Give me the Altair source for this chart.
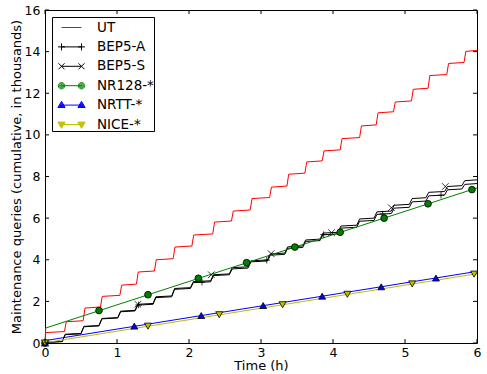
import altair as alt
import pandas as pd

# ---------------- data ----------------
series_names = ["UT", "BEP5-A", "BEP5-S", "NR128-*", "NRTT-*", "NICE-*"]
line_colors = ["#ff0000", "#000000", "#000000", "#008000", "#0000ff", "#bfbf00"]

x_ticks = [0, 1, 2, 3, 4, 5, 6]
y_ticks = [0, 2, 4, 6, 8, 10, 12, 14, 16]

# UT: staircase (jump times in h, level after each jump, thousands)
ut_start = 0.0
ut_jump_t = [0.27, 0.53, 0.77, 1.04, 1.27, 1.52, 1.78, 2.04, 2.33, 2.59, 2.85, 3.12,
             3.36, 3.61, 3.85, 4.10, 4.37, 4.60, 4.84, 5.09, 5.32, 5.58, 5.82]
ut_levels = [0.50, 1.02, 1.68, 2.24, 2.78, 3.41, 4.00, 4.61, 5.19, 5.81, 6.34, 6.94,
             7.49, 8.11, 8.70, 9.23, 9.82, 10.43, 11.06, 11.58, 12.19, 12.85, 13.43, 14.01]

# BEP5-A / BEP5-S: smaller staircases
bep_jump_t = [0.24, 0.50, 0.75, 1.01, 1.25, 1.50, 1.76, 2.02, 2.30, 2.56, 2.82, 3.09,
              3.33, 3.58, 3.82, 4.07, 4.33, 4.57, 4.81, 5.06, 5.29, 5.55, 5.79]
bep_a_levels = [0.03, 0.40, 0.78, 1.16, 1.50, 1.82, 2.18, 2.58, 2.90, 3.24, 3.56, 3.90,
                4.22, 4.55, 4.88, 5.20, 5.52, 5.85, 6.18, 6.48, 6.78, 7.07, 7.36, 7.62]
bep_s_levels = [0.03, 0.42, 0.80, 1.18, 1.53, 1.86, 2.22, 2.62, 2.95, 3.28, 3.62, 3.95,
                4.28, 4.62, 4.95, 5.28, 5.62, 5.96, 6.30, 6.62, 6.94, 7.24, 7.52, 7.80]

# straight lines
nr128_t = [0.0, 0.01, 6.0]
nr128_v = [0.0, 0.72, 7.45]
nrtt_t = [0.0, 0.01, 6.0]
nrtt_v = [0.0, 0.12, 3.44]
nice_t = [0.0, 0.01, 6.0]
nice_v = [0.0, 0.02, 3.33]

# markers
bep_a_mark_t = [0.0, 1.30, 2.18, 3.08, 3.87, 4.69, 5.50]
bep_a_mark_v = [0.0, 1.83, 2.92, 3.98, 5.21, 6.20, 7.10]
bep_s_mark_t = [0.0, 1.29, 2.31, 3.14, 3.98, 4.81, 5.56]
bep_s_mark_v = [0.0, 1.86, 3.28, 4.29, 5.30, 6.50, 7.52]
nr128_mark_t = [0.0, 0.75, 1.43, 2.13, 2.80, 3.47, 4.10, 4.71, 5.32, 5.93]
nr128_mark_v = [0.0, 1.56, 2.32, 3.11, 3.86, 4.61, 5.32, 6.00, 6.69, 7.37]
nrtt_mark_t = [0.0, 1.24, 2.17, 3.03, 3.85, 4.67, 5.43]
nrtt_mark_v = [0.0, 0.81, 1.32, 1.80, 2.25, 2.70, 3.12]
nice_mark_t = [0.0, 1.43, 2.42, 3.30, 4.20, 5.10, 5.96]
nice_mark_v = [0.0, 0.81, 1.36, 1.84, 2.34, 2.84, 3.31]


# ---------------- build tables ----------------
def staircase(start, jumps, levels, rise, ramp):
    ts, vs = [0.0, 0.01], [start, levels[0]]
    for k, j in enumerate(jumps):
        ts += [j, j + ramp]
        vs += [levels[k] + rise, levels[k + 1]]
    ts.append(6.0)
    vs.append(levels[-1] + rise)
    return ts, vs


rows = []


def add(name, ts, vs):
    for i, (t, v) in enumerate(zip(ts, vs)):
        rows.append({"series": name, "t": t, "v": v, "order": i})


add("UT", *staircase(ut_start, ut_jump_t, ut_levels, 0.05, 0.025))
add("BEP5-A", *staircase(0.0, bep_jump_t, bep_a_levels, 0.04, 0.04))
add("BEP5-S", *staircase(0.0, bep_jump_t, bep_s_levels, 0.04, 0.04))
add("NR128-*", nr128_t, nr128_v)
add("NRTT-*", nrtt_t, nrtt_v)
add("NICE-*", nice_t, nice_v)
line_df = pd.DataFrame(rows)

mrows = []
for name, ts, vs in [("BEP5-A", bep_a_mark_t, bep_a_mark_v),
                     ("BEP5-S", bep_s_mark_t, bep_s_mark_v),
                     ("NR128-*", nr128_mark_t, nr128_mark_v),
                     ("NRTT-*", nrtt_mark_t, nrtt_mark_v),
                     ("NICE-*", nice_mark_t, nice_mark_v)]:
    for t, v in zip(ts, vs):
        mrows.append({"series": name, "t": t, "v": v})
mark_df = pd.DataFrame(mrows)

# ---------------- styling ----------------
FONT = "DejaVu Sans"
plus_path = "M-1,0L1,0M0,-1L0,1"
cross_path = "M-1,-1L1,1M-1,1L1,-1"
data_shapes = ["circle", plus_path, cross_path, "circle", "triangle-up", "triangle-down"]
data_sizes = [40, 49, 42, 42, 50, 50]


# legend symbols (stroke only): a line from -1..1 with a marker at each end;
# solid markers are drawn as nested outlines
def f(x):
    return f"{x:.3f}".rstrip("0").rstrip(".")


def rings(cx, radii):
    out = ""
    for r in radii:
        out += (f"M{f(cx + r)},0A{f(r)},{f(r)},0,1,1,{f(cx - r)},0"
                f"A{f(r)},{f(r)},0,1,1,{f(cx + r)},0Z")
    return out


def tri(cx, up, scales):
    s0 = -1 if up else 1
    verts = [(0, 0.38 * s0), (0.36, -0.24 * s0), (-0.36, -0.24 * s0)]
    cy = sum(v[1] for v in verts) / 3
    out = ""
    for s in scales:
        pts = [(cx + s * vx, cy + s * (vy - cy)) for vx, vy in verts]
        out += "M" + "L".join(f"{f(px)},{f(py)}" for px, py in pts) + "Z"
    return out


LINE = "M-1,0L1,0"
RADII = [0.32, 0.22, 0.12, 0.04]
TSCALES = [1.0, 0.72, 0.44, 0.16]
legend_paths = [
    LINE,
    LINE + "M-1.35,0L-0.65,0M-1,-0.35L-1,0.35M0.65,0L1.35,0M1,-0.35L1,0.35",
    LINE + "M-1.3,-0.3L-0.7,0.3M-1.3,0.3L-0.7,-0.3M0.7,-0.3L1.3,0.3M0.7,0.3L1.3,-0.3",
    LINE + rings(-1, RADII) + rings(1, RADII),
    LINE + tri(-1, True, TSCALES) + tri(1, True, TSCALES),
    LINE + tri(-1, False, TSCALES) + tri(1, False, TSCALES),
]

x_scale = alt.Scale(domain=[0, 6], nice=False, zero=False)
y_scale = alt.Scale(domain=[0, 16], nice=False, zero=False)

x_axis = alt.Axis(values=x_ticks, ticks=False, domain=False, grid=False, format="d",
                  labelPadding=3, labelFlush=False, labelOverlap=False,
                  title="Time (h)", titlePadding=1, titleFontWeight="normal")
y_axis = alt.Axis(values=y_ticks, ticks=False, domain=False, grid=False, format="d",
                  labelPadding=5, labelOverlap=False, titleFontWeight="normal",
                  title="Maintenance queries (cumulative, in thousands)", titlePadding=1)

legend = alt.Legend(orient="none", legendX=7, legendY=7, title=None, padding=0,
                    symbolSize=400, rowPadding=2.4, symbolOffset=9, labelOffset=15,
                    labelFont=FONT, labelFontSize=13.5, labelColor="black",
                    strokeColor="black", symbolStrokeWidth=1, symbolOpacity=1)

lines = alt.Chart(line_df).mark_line(strokeWidth=1).encode(
    x=alt.X("t:Q", scale=x_scale, axis=x_axis),
    y=alt.Y("v:Q", scale=y_scale, axis=y_axis),
    color=alt.Color("series:N", scale=alt.Scale(domain=series_names, range=line_colors),
                    legend=None),
    order="order:Q",
)

markers = alt.Chart(mark_df).mark_point(filled=True, stroke="black", strokeWidth=0.8,
                                        opacity=1).encode(
    x=alt.X("t:Q", scale=x_scale),
    y=alt.Y("v:Q", scale=y_scale),
    fill=alt.Fill("series:N", scale=alt.Scale(domain=series_names, range=line_colors),
                  legend=None),
    shape=alt.Shape("series:N", scale=alt.Scale(domain=series_names, range=data_shapes),
                    legend=None),
    size=alt.Size("series:N", scale=alt.Scale(domain=series_names, range=data_sizes),
                  legend=None),
)

legend_layer = alt.Chart(mark_df).transform_filter(alt.datum.t < -100).mark_point(
    filled=False, opacity=1, strokeWidth=1).encode(
    x=alt.X("t:Q", scale=x_scale),
    y=alt.Y("v:Q", scale=y_scale),
    color=alt.Color("series:N", scale=alt.Scale(domain=series_names, range=line_colors),
                    legend=legend),
    shape=alt.Shape("series:N", scale=alt.Scale(domain=series_names, range=legend_paths),
                    legend=legend),
)

xt_df = pd.DataFrame({"t": x_ticks})
yt_df = pd.DataFrame({"v": y_ticks})
tick_style = dict(color="black", thickness=1, size=4, opacity=1)
bottom_ticks = alt.Chart(xt_df).mark_tick(orient="vertical", yOffset=-2, **tick_style).encode(
    x=alt.X("t:Q", scale=x_scale), y=alt.datum(0))
top_ticks = alt.Chart(xt_df).mark_tick(orient="vertical", yOffset=2, **tick_style).encode(
    x=alt.X("t:Q", scale=x_scale), y=alt.datum(16))
left_ticks = alt.Chart(yt_df).mark_tick(orient="horizontal", xOffset=2, **tick_style).encode(
    y=alt.Y("v:Q", scale=y_scale), x=alt.datum(0))
right_ticks = alt.Chart(yt_df).mark_tick(orient="horizontal", xOffset=-2, **tick_style).encode(
    y=alt.Y("v:Q", scale=y_scale), x=alt.datum(6))

chart = alt.layer(
    lines, markers, legend_layer, bottom_ticks, top_ticks, left_ticks, right_ticks
).resolve_scale(
    color="independent", fill="independent", shape="independent"
).properties(
    width=432, height=333,
    background="white",
    autosize=alt.AutoSizeParams(type="none"),
    padding={"left": 45, "top": 10, "right": 10, "bottom": 31},
).configure_view(
    stroke="black", strokeWidth=1
).configure_axis(
    labelFont=FONT, titleFont=FONT, labelFontSize=12.5, titleFontSize=13,
    labelColor="black", titleColor="black", titleFontWeight="normal",
)

chart.save("out.html", embed_options={"renderer": "svg", "actions": False})
